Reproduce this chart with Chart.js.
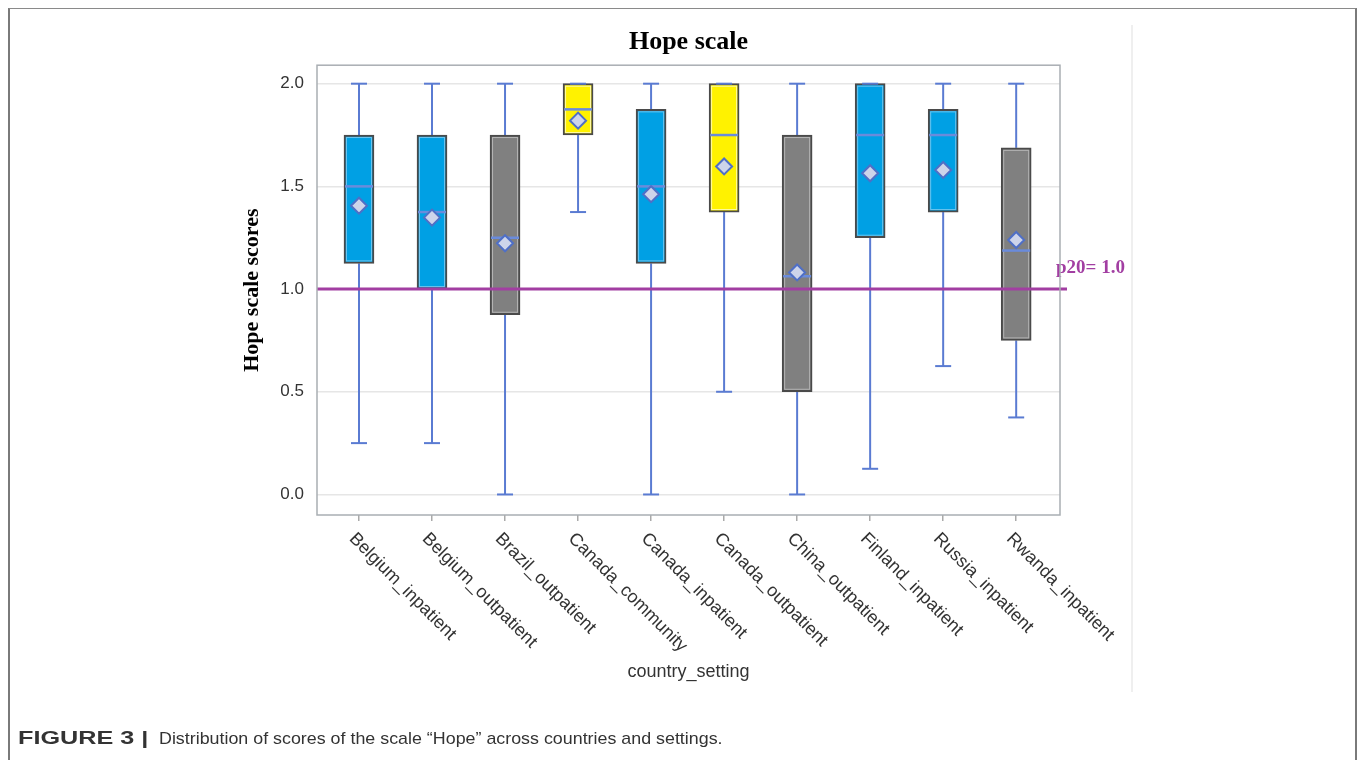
<!DOCTYPE html>
<html>
<head>
<meta charset="utf-8">
<title>Hope scale</title>
<script src="https://cdn.jsdelivr.net/npm/chart.js@4.4.1/dist/chart.umd.min.js"></script>
<style>
  html, body { margin: 0; padding: 0; background: #fff; }
  body { width: 1363px; height: 760px; position: relative; overflow: hidden; }
  #frame {
    position: absolute; left: 8px; top: 8px; width: 1345px; height: 800px;
    border-left: 2px solid #7a7a7a; border-right: 2px solid #7a7a7a; border-top: 1px solid #8a8a8a;
  }
  #divider { position: absolute; left: 1131px; top: 25px; width: 2px; height: 667px; background: #efefef; }
  #chart { position: absolute; left: 0; top: 0; }
  .caption {
    position: absolute; top: 729px;
    font-family: "Liberation Sans", Arial, sans-serif; font-size: 17px; color: #333; white-space: nowrap;
    transform-origin: 0 0;
  }
  #capLabel { left: 18px; font-weight: bold; font-size: 18px; top: 728px; transform: scaleX(1.4); }
  #capText { left: 159px; transform: scaleX(1.05); }
</style>
</head>
<body>
<div id="frame"></div>
<div id="divider"></div>
<canvas id="chart" width="1363" height="760"></canvas>
<div class="caption" id="capLabel">FIGURE 3 |</div>
<div class="caption" id="capText">Distribution of scores of the scale “Hope” across countries and settings.</div>
<script>
// Hope scale scores by country and setting
const categories = [
  'Belgium_inpatient', 'Belgium_outpatient', 'Brazil_outpatient', 'Canada_community',
  'Canada_inpatient', 'Canada_outpatient', 'China_outpatient', 'Finland_inpatient',
  'Russia_inpatient', 'Rwanda_inpatient'
];
const whiskerLow  = [0.25, 0.25, 0.0,  1.375, 0.0,   0.5,   0.0,    0.125, 0.625, 0.375];
const q1          = [1.125, 1.0, 0.875, 1.75, 1.125, 1.375, 0.5,    1.25,  1.375, 0.75];
const median      = [1.5,  1.375, 1.25, 1.875, 1.5,  1.75,  1.0625, 1.75,  1.75,  1.1875];
const q3          = [1.75, 1.75, 1.75,  2.0,  1.875, 2.0,   1.75,   2.0,   1.875, 1.6875];
const whiskerHigh = [2.0,  2.0,  2.0,   2.0,  2.0,   2.0,   2.0,    2.0,   2.0,   2.0];
const means       = [1.406, 1.348, 1.223, 1.82, 1.462, 1.597, 1.081, 1.564, 1.58, 1.239];
const yTicks = [0.0, 0.5, 1.0, 1.5, 2.0];
const p20 = 1.0;

// fill colour per box group
const BLUE = '#00a0e4', GREY = '#808080', YELLOW = '#fff200';
const boxFill = [BLUE, BLUE, GREY, YELLOW, BLUE, YELLOW, GREY, BLUE, BLUE, GREY];
const innerLine = { [BLUE]: '#6cc4ee', [GREY]: '#b4b4b4', [YELLOW]: '#fffaa8' };

const SANS = '"Liberation Sans", Arial, sans-serif';
const SERIF = '"Liberation Serif", "Times New Roman", serif';
const WHISKER = '#5a7bd2';

const boxPlotParts = {
  id: 'boxPlotParts',
  beforeDatasetsDraw(chart) {
    const { ctx, scales: { x, y } } = chart;
    ctx.save();
    ctx.strokeStyle = WHISKER;
    ctx.lineWidth = 2;
    categories.forEach((c, i) => {
      const cx = x.getPixelForValue(i);
      [[q3[i], whiskerHigh[i]], [q1[i], whiskerLow[i]]].forEach(([from, to]) => {
        if (from === to) return;
        ctx.beginPath();
        ctx.moveTo(cx, y.getPixelForValue(from));
        ctx.lineTo(cx, y.getPixelForValue(to));
        ctx.stroke();
      });
    });
    ctx.restore();
  },
  afterDatasetDraw(chart, args) {
    if (args.index !== 0) return;
    const { ctx, scales: { x, y } } = chart;
    const meta = chart.getDatasetMeta(0);
    ctx.save();
    meta.data.forEach((bar, i) => {
      const p = bar.getProps(['x', 'y', 'base', 'width'], true);
      const left = p.x - p.width / 2, right = p.x + p.width / 2;
      const top = Math.min(p.y, p.base), bottom = Math.max(p.y, p.base);
      // light inner outline
      ctx.strokeStyle = innerLine[boxFill[i]];
      ctx.lineWidth = 1;
      ctx.strokeRect(left + 2.5, top + 2.5, p.width - 5, bottom - top - 5);
      // median
      const my = y.getPixelForValue(median[i]);
      ctx.strokeStyle = '#6a8bdb';
      ctx.lineWidth = 2.5;
      ctx.beginPath();
      ctx.moveTo(left + 1, my);
      ctx.lineTo(right - 1, my);
      ctx.stroke();
    });
    // whisker caps
    ctx.strokeStyle = WHISKER;
    ctx.lineWidth = 2;
    categories.forEach((c, i) => {
      const cx = x.getPixelForValue(i);
      [whiskerHigh[i], whiskerLow[i]].forEach(v => {
        const vy = y.getPixelForValue(v);
        ctx.beginPath();
        ctx.moveTo(cx - 8, vy);
        ctx.lineTo(cx + 8, vy);
        ctx.stroke();
      });
    });
    ctx.restore();
  },
  afterDatasetsDraw(chart) {
    const { ctx, chartArea: a, scales: { y } } = chart;
    const py = y.getPixelForValue(p20);
    ctx.save();
    ctx.strokeStyle = '#a23ea2';
    ctx.lineWidth = 3;
    ctx.beginPath();
    ctx.moveTo(a.left, py);
    ctx.lineTo(a.right + 7, py);
    ctx.stroke();
    ctx.fillStyle = '#a23ea2';
    ctx.font = 'bold 19px ' + SERIF;
    ctx.textAlign = 'left';
    ctx.textBaseline = 'middle';
    ctx.fillText('p20= ' + p20.toFixed(1), a.right - 4, py - 21);
    ctx.restore();
  },
  afterDraw(chart) {
    const { ctx, chartArea: a, scales: { x } } = chart;
    ctx.save();
    // plot frame
    ctx.strokeStyle = '#a9aeb3';
    ctx.lineWidth = 1.5;
    ctx.strokeRect(a.left, a.top, a.right - a.left, a.bottom - a.top);
    // slanted category labels
    ctx.fillStyle = '#333';
    ctx.font = '18px ' + SANS;
    ctx.textAlign = 'left';
    ctx.textBaseline = 'middle';
    categories.forEach((c, i) => {
      const cx = x.getPixelForValue(i);
      ctx.save();
      ctx.translate(cx - 7, a.bottom + 21);
      ctx.rotate(Math.PI / 4);
      ctx.fillText(c, 0, 0);
      ctx.restore();
    });
    ctx.restore();
  }
};

new Chart(document.getElementById('chart'), {
  type: 'bar',
  data: {
    datasets: [
      {
        label: 'box',
        data: categories.map((c, i) => ({ x: i, y: [q1[i], q3[i]] })),
        backgroundColor: boxFill,
        borderColor: '#4a4a4a',
        borderWidth: 2,
        borderSkipped: false,
        barThickness: 30,
        order: 1
      },
      {
        type: 'line',
        label: 'mean',
        data: categories.map((c, i) => ({ x: i, y: means[i] })),
        showLine: false,
        pointStyle: 'rectRot',
        pointRadius: 8,
        pointBackgroundColor: '#cdd4ea',
        pointBorderColor: '#4f6fc6',
        pointBorderWidth: 2,
        order: 0
      }
    ]
  },
  options: {
    responsive: false,
    animation: false,
    devicePixelRatio: 1,
    layout: { padding: { left: 230, right: 303, top: 0, bottom: 65 } },
    plugins: {
      legend: { display: false },
      tooltip: { enabled: false },
      title: {
        display: true,
        fullSize: false,
        text: 'Hope scale',
        color: '#000',
        font: { family: SERIF, size: 26, weight: 'bold' },
        padding: { top: 27, bottom: 7 }
      }
    },
    scales: {
      x: {
        type: 'linear',
        offset: false,
        min: -0.575,
        max: 9.6,
        afterBuildTicks: s => { s.ticks = categories.map((c, i) => ({ value: i })); },
        afterFit: s => { s.height = 180; },
        ticks: { display: false },
        grid: { offset: false, drawOnChartArea: false, drawTicks: true, tickLength: 6, color: '#aaaaaa', lineWidth: 1.5 },
        border: { display: false },
        title: {
          display: true,
          text: 'country_setting',
          color: '#333',
          font: { family: SANS, size: 18 },
          padding: { top: 4, bottom: 12 }
        }
      },
      y: {
        min: -0.1,
        max: 2.09,
        afterBuildTicks: s => { s.ticks = yTicks.map(v => ({ value: v })); },
        afterFit: s => { s.width = 87; },
        ticks: {
          color: '#333',
          font: { family: SANS, size: 17 },
          padding: 13,
          callback: v => Number(v).toFixed(1)
        },
        grid: { color: '#e6e6e6', lineWidth: 1.5, drawTicks: false },
        border: { display: false },
        title: {
          display: true,
          text: 'Hope scale scores',
          color: '#000',
          font: { family: SERIF, size: 22, weight: 'bold' },
          padding: { top: 9, bottom: 0 }
        }
      }
    }
  },
  plugins: [boxPlotParts]
});
</script>
</body>
</html>
